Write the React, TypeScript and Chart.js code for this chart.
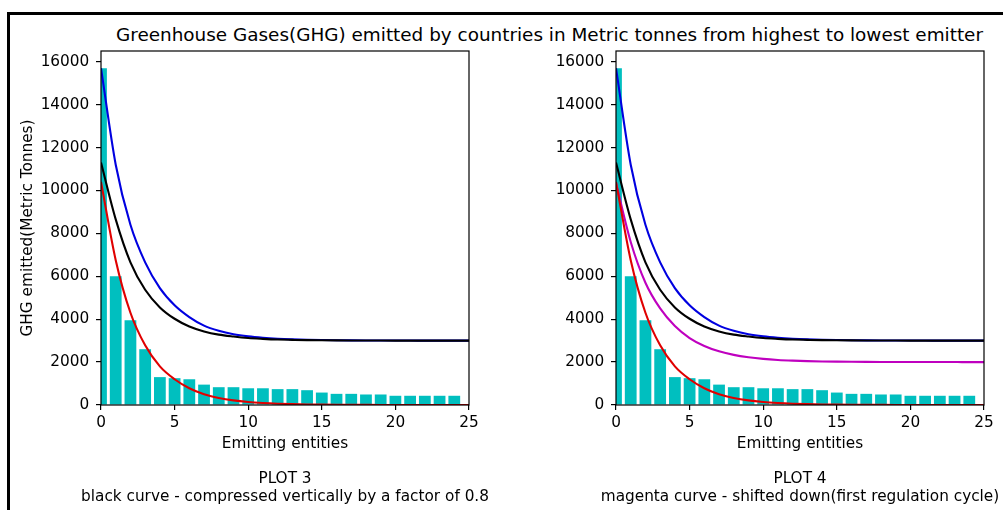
import React, { useEffect, useRef } from "react";
import { Chart, registerables } from "chart.js";

Chart.register(...registerables);

// ---------- data ----------
const suptitle =
  "Greenhouse Gases(GHG) emitted by countries in Metric tonnes from highest to lowest emitter";
const yAxisLabel = "GHG emitted(Metric Tonnes)";
const xAxisLabel = "Emitting entities";
const plot3Caption = ["PLOT 3", "black curve - compressed vertically by a factor of 0.8"];
const plot4Caption = ["PLOT 4", "magenta curve - shifted down(first regulation cycle)"];

const entities = [0, 1, 2, 3, 4, 5, 6, 7, 8, 9, 10, 11, 12, 13, 14, 15, 16, 17, 18, 19, 20, 21, 22, 23, 24];
const emissions = [15700, 6000, 3950, 2600, 1300, 1250, 1200, 950, 830, 830, 780, 780, 740, 740, 690, 580, 520, 520, 490, 490, 430, 430, 430, 430, 430];

const curveX = [0, 1, 2, 3, 4, 5, 6, 7, 8, 9, 10, 11, 12, 13, 14, 15, 16, 17, 18, 19, 20, 21, 22, 23, 24, 25];
const blueCurve = [15700, 11200, 8400, 6650, 5450, 4650, 4100, 3700, 3460, 3300, 3200, 3135, 3090, 3060, 3040, 3027, 3018, 3012, 3008, 3005, 3004, 3003, 3002, 3001, 3001, 3000];
const blackCurve = [11300, 8650, 6650, 5370, 4550, 4020, 3660, 3430, 3280, 3190, 3120, 3080, 3050, 3035, 3022, 3015, 3010, 3007, 3005, 3003, 3002, 3001, 3001, 3000, 3000, 3000];
const redCurve = [10400, 6750, 4300, 2780, 1800, 1200, 780, 500, 330, 215, 140, 92, 60, 40, 26, 17, 11, 7, 5, 3, 2, 1, 1, 0, 0, 0];
const magentaCurve = [10350, 7600, 5700, 4500, 3680, 3120, 2750, 2500, 2335, 2225, 2150, 2100, 2068, 2046, 2031, 2021, 2014, 2009, 2006, 2004, 2003, 2002, 2001, 2001, 2000, 2000];

const yTickValues = [0, 2000, 4000, 6000, 8000, 10000, 12000, 14000, 16000];
const xTickValues = [0, 5, 10, 15, 20, 25];
const yMax = 16500;
const xMax = 25;

// ---------- style ----------
const FONT = "DejaVu Sans";
const FS = 15.3;
const TITLE_FS = 18.4;
const BAR_COLOR = "#00bfbf";

type Curve = { values: number[]; color: string; order: number };

function captionPlugin(lines: string[]) {
  return {
    id: "frameCaption",
    afterDraw(chart: any) {
      const { ctx, chartArea: a } = chart;
      ctx.save();
      ctx.strokeStyle = "#000";
      ctx.lineWidth = 1.2;
      ctx.strokeRect(a.left, a.top, a.right - a.left, a.bottom - a.top);
      ctx.fillStyle = "#000";
      ctx.font = `${FS}px "${FONT}"`;
      ctx.textAlign = "center";
      ctx.textBaseline = "middle";
      const cx = (a.left + a.right) / 2;
      lines.forEach((line, i) => ctx.fillText(line, cx, a.bottom + 74.5 + i * 17.2));
      ctx.restore();
    },
  };
}

function makeConfig(curves: Curve[], caption: string[], showYTitle: boolean, yWidth: number, padRight: number) {
  const gridOpts = {
    display: true,
    drawOnChartArea: false,
    drawTicks: true,
    tickLength: 5,
    color: "#000",
    lineWidth: 1.2,
    offset: false,
  };
  const datasets: any[] = curves.map((c) => ({
    type: "line",
    data: curveX.map((x, i) => ({ x, y: c.values[i] })),
    borderColor: c.color,
    borderWidth: 2.1,
    pointRadius: 0,
    fill: false,
    cubicInterpolationMode: "monotone",
    order: c.order,
  }));
  datasets.push({
    type: "bar",
    data: entities.map((x, i) => ({ x, y: emissions[i] })),
    backgroundColor: BAR_COLOR,
    borderWidth: 0,
    barPercentage: 0.8,
    categoryPercentage: 1,
    clip: 0,
    order: 10,
  });
  return {
    type: "bar",
    data: { datasets },
    plugins: [captionPlugin(caption)],
    options: {
      responsive: false,
      animation: false,
      events: [],
      layout: { padding: { left: 0, right: padRight, top: 11, bottom: 0 } },
      plugins: { legend: { display: false }, tooltip: { enabled: false }, title: { display: false } },
      scales: {
        x: {
          type: "linear",
          min: 0,
          max: xMax,
          offset: false,
          grid: gridOpts,
          border: { display: false },
          ticks: {
            color: "#000",
            font: { family: FONT, size: FS },
            padding: 4.1,
            maxRotation: 0,
            autoSkip: false,
            callback: (v: any) => String(v),
          },
          afterBuildTicks: (s: any) => {
            s.ticks = xTickValues.map((v) => ({ value: v }));
          },
          afterFit: (s: any) => {
            s.height = 105;
            s.paddingLeft = 0;
            s.paddingRight = 0;
          },
          title: {
            display: true,
            text: xAxisLabel,
            color: "#000",
            font: { family: FONT, size: FS, lineHeight: 1.2 },
            padding: { top: 0, bottom: 57.1 },
          },
        },
        y: {
          type: "linear",
          min: 0,
          max: yMax,
          grid: gridOpts,
          border: { display: false },
          ticks: {
            color: "#000",
            font: { family: FONT, size: FS },
            padding: 6.7,
            callback: (v: any) => String(v),
          },
          afterBuildTicks: (s: any) => {
            s.ticks = yTickValues.map((v) => ({ value: v }));
          },
          afterFit: (s: any) => {
            s.width = yWidth;
            s.paddingTop = 0;
            s.paddingBottom = 0;
          },
          title: {
            display: showYTitle,
            text: yAxisLabel,
            color: "#000",
            font: { family: FONT, size: FS, lineHeight: 1.2 },
            padding: { top: 8.8, bottom: 0 },
          },
        },
      },
    },
  };
}

function Plot(props: {
  left: number;
  width: number;
  curves: Curve[];
  caption: string[];
  showYTitle: boolean;
  yWidth: number;
  padRight: number;
}) {
  const ref = useRef<HTMLCanvasElement | null>(null);
  useEffect(() => {
    if (!ref.current) return;
    const chart = new Chart(
      ref.current,
      makeConfig(props.curves, props.caption, props.showYTitle, props.yWidth, props.padRight) as any
    );
    return () => chart.destroy();
  }, []);
  return (
    <canvas
      ref={ref}
      width={props.width}
      height={470}
      style={{ position: "absolute", left: props.left, top: 40, width: props.width, height: 470 }}
    />
  );
}

export default function App() {
  return (
    <div
      style={{
        position: "fixed",
        left: 0,
        top: 0,
        width: 1003,
        height: 510,
        overflow: "hidden",
        background: "#fff",
        fontFamily: `"${FONT}"`,
      }}
    >
      <div
        style={{
          position: "absolute",
          left: 7,
          top: 12,
          width: 1200,
          height: 700,
          borderLeft: "3px solid #000",
          borderTop: "3px solid #000",
        }}
      />
      <div
        style={{
          position: "absolute",
          left: 549.5,
          top: 26.1,
          transform: "translateX(-50%)",
          whiteSpace: "nowrap",
          fontSize: TITLE_FS,
          lineHeight: 1,
          color: "#000",
        }}
      >
        {suptitle}
      </div>
      <Plot
        left={10}
        width={510}
        curves={[
          { values: redCurve, color: "#e00000", order: 1 },
          { values: blackCurve, color: "#000000", order: 3 },
          { values: blueCurve, color: "#0000e0", order: 4 },
        ]}
        caption={plot3Caption}
        showYTitle={true}
        yWidth={91}
        padRight={51}
      />
      <Plot
        left={520}
        width={483}
        curves={[
          { values: redCurve, color: "#e00000", order: 1 },
          { values: magentaCurve, color: "#bf00bf", order: 2 },
          { values: blackCurve, color: "#000000", order: 3 },
          { values: blueCurve, color: "#0000e0", order: 4 },
        ]}
        caption={plot4Caption}
        showYTitle={false}
        yWidth={96}
        padRight={19}
      />
    </div>
  );
}
